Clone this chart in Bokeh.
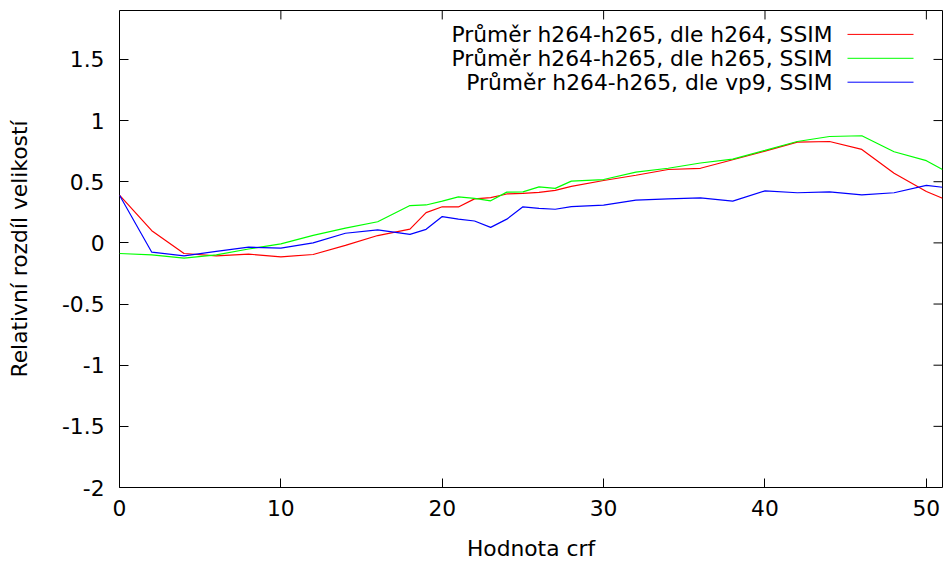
from bokeh.plotting import figure
from bokeh.models import Range1d, FixedTicker, Label, Arrow
from bokeh.embed import file_html
from bokeh.resources import INLINE

# ---------------- data ----------------
crf = [0, 2, 4, 6, 8, 10, 12, 14, 16, 18, 19, 20, 21, 22, 23, 24, 25, 26, 27, 28,
       30, 32, 34, 36, 38, 40, 42, 44, 46, 48, 50, 51]
h264 = [0.39, 0.10, -0.087, -0.106, -0.092, -0.114, -0.095, -0.02, 0.06, 0.112,
        0.247, 0.295, 0.294, 0.36, 0.37, 0.40, 0.405, 0.413, 0.43, 0.462,
        0.51, 0.553, 0.60, 0.61, 0.68, 0.75, 0.824, 0.829, 0.764, 0.57, 0.42, 0.365]
h265 = [-0.087, -0.098, -0.125, -0.098, -0.05, -0.008, 0.062, 0.12, 0.173, 0.305,
        0.31, 0.342, 0.376, 0.364, 0.344, 0.415, 0.417, 0.458, 0.446, 0.505,
        0.518, 0.578, 0.61, 0.653, 0.685, 0.756, 0.829, 0.87, 0.876, 0.745, 0.672, 0.60]
vp9 = [0.39, -0.076, -0.106, -0.07, -0.035, -0.043, 0.0, 0.079, 0.106, 0.07,
       0.111, 0.215, 0.194, 0.179, 0.127, 0.194, 0.295, 0.282, 0.275, 0.297,
       0.309, 0.35, 0.36, 0.368, 0.341, 0.425, 0.41, 0.417, 0.393, 0.41, 0.47, 0.455]

series_names = ["Průměr h264-h265, dle h264, SSIM",
                "Průměr h264-h265, dle h265, SSIM",
                "Průměr h264-h265, dle vp9, SSIM"]
series_colors = ["#ff0000", "#00ff00", "#0000ff"]

x_ticks = [0, 10, 20, 30, 40, 50]
y_ticks = [-2, -1.5, -1, -0.5, 0, 0.5, 1, 1.5]
y_tick_labels = ["-2", "-1.5", "-1", "-0.5", "0", "0.5", "1", "1.5"]

x_title = "Hodnota crf"
y_title = "Relativní rozdíl velikostí"

# ---------------- layout ----------------
FONT = "DejaVu Sans"
FS = "21.8px"
W, H = 944, 563
LEFT, RIGHT, TOP, BOTTOM = 119, 2, 10, 74
X0, X1 = 0, 51
Y0, Y1 = -2, 1.9
TICK = 9

p = figure(width=W, height=H, output_backend="svg", toolbar_location=None,
           x_range=Range1d(X0, X1), y_range=Range1d(Y0, Y1),
           min_border_left=LEFT, min_border_right=RIGHT,
           min_border_top=TOP, min_border_bottom=BOTTOM,
           x_axis_label=x_title, y_axis_label=y_title)
p.xgrid.visible = False
p.ygrid.visible = False
p.outline_line_color = "black"
p.outline_line_width = 1
p.background_fill_color = "white"
p.border_fill_color = "white"


def style_axis(ax, ticks, labels):
    ax.ticker = FixedTicker(ticks=ticks)
    ax.axis_line_color = None
    ax.major_tick_in = TICK
    ax.major_tick_out = 0
    ax.major_tick_line_color = "black"
    ax.major_tick_line_width = 1
    ax.minor_tick_line_color = None
    ax.minor_tick_in = 0
    ax.minor_tick_out = 0
    ax.major_label_overrides = {t: l for t, l in zip(ticks, labels)}
    ax.major_label_text_font = FONT
    ax.major_label_text_font_size = FS
    ax.major_label_text_color = "black"
    ax.axis_label_text_font = FONT
    ax.axis_label_text_font_size = FS
    ax.axis_label_text_font_style = "normal"
    ax.axis_label_text_color = "black"


style_axis(p.xaxis[0], x_ticks, [str(t) for t in x_ticks])
p.xaxis[0].major_label_standoff = 12
p.xaxis[0].axis_label_standoff = 17
style_axis(p.yaxis[0], y_ticks, y_tick_labels)
p.yaxis[0].major_label_standoff = 15
p.yaxis[0].axis_label_standoff = 27

frame_w = W - LEFT - RIGHT
frame_h = H - TOP - BOTTOM


def px_to_x(px):
    return X0 + (px - LEFT) / frame_w * (X1 - X0)


def px_to_y(py):
    return Y1 - (py - TOP) / frame_h * (Y1 - Y0)


# mirrored inward ticks on top and right borders (gnuplot style)
tick_dy = (Y1 - Y0) * TICK / frame_h
tick_dx = (X1 - X0) * TICK / frame_w
p.segment(x0=x_ticks, y0=[Y1] * len(x_ticks), x1=x_ticks,
          y1=[Y1 - tick_dy] * len(x_ticks), line_color="black", line_width=1)
p.segment(x0=[X1] * len(y_ticks), y0=y_ticks, x1=[X1 - tick_dx] * len(y_ticks),
          y1=y_ticks, line_color="black", line_width=1)

for ys, c in zip([h264, h265, vp9], series_colors):
    p.line(crf, ys, line_color=c, line_width=1.2)

# ---------------- key (gnuplot style: text then sample line) ----------------
key_text_right = 832
key_line = (847, 913)
key_rows = [34, 58, 82]
for name, c, ry in zip(series_names, series_colors, key_rows):
    p.add_layout(Label(x=px_to_x(key_text_right), y=px_to_y(ry), text=name,
                       text_align="right", text_baseline="middle",
                       text_font=FONT, text_font_size=FS, text_color="black"))
    p.add_layout(Arrow(x_start=px_to_x(key_line[0]), y_start=px_to_y(ry),
                       x_end=px_to_x(key_line[1]), y_end=px_to_y(ry),
                       start=None, end=None, line_color=c, line_width=1))

open("out.html", "w").write(file_html(p, INLINE))
